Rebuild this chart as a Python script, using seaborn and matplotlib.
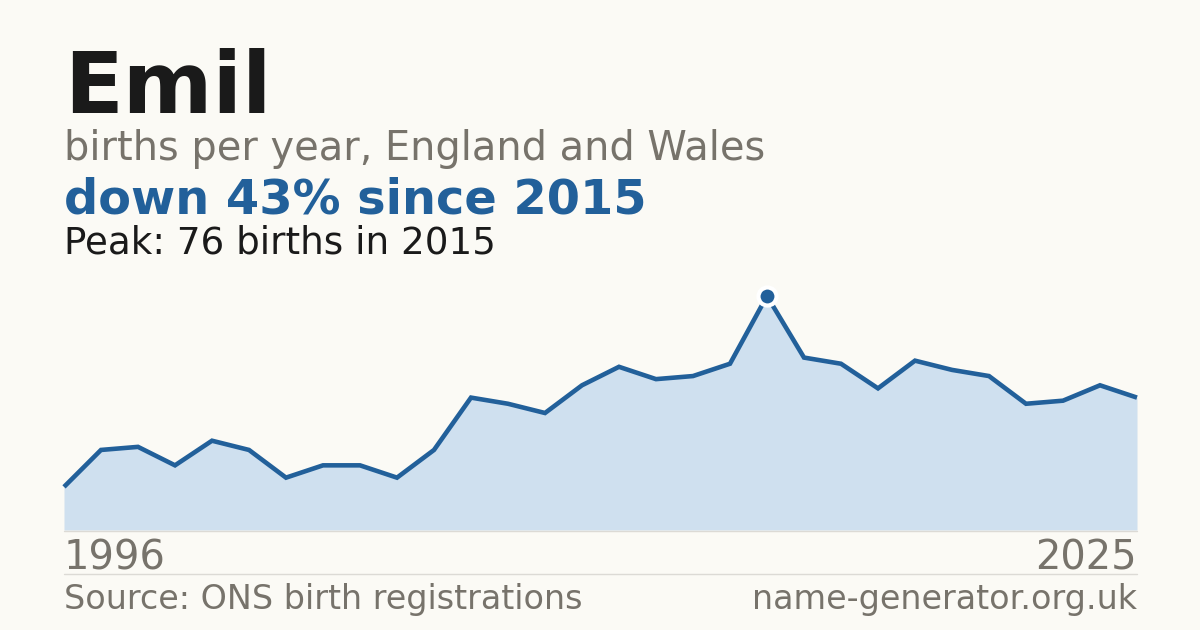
import numpy as np
import pandas as pd
import seaborn as sns
import matplotlib.pyplot as plt

years = list(range(1996, 2026))
births = [14, 26, 27, 21, 29, 26, 17, 21, 21, 17,
          26, 43, 41, 38, 47, 53, 49, 50, 54, 76,
          56, 54, 46, 55, 52, 50, 41, 42, 47, 43]

name = "Emil"
subtitle = "births per year, England and Wales"
source = "Source: ONS birth registrations"
site = "name-generator.org.uk"

bg = "#fbfaf5"
blue = "#22609a"
fill = "#cfe0ef"
grey = "#77736b"
dark = "#1a1a1a"

df = pd.DataFrame({"year": years, "births": births})
peak_i = int(np.argmax(births))
peak_year = years[peak_i]
peak_val = births[peak_i]
change = round((peak_val - births[-1]) / peak_val * 100)

sns.set_theme(style="white")
plt.rcParams["font.family"] = ["DejaVu Sans"]

W, H = 1200, 630
fig = plt.figure(figsize=(W / 100, H / 100), dpi=100, facecolor=bg)


def fy(px):
    return 1 - px / H


# plot area: x 64..1137, baseline y=530, peak at y=296
ax = fig.add_axes([64 / W, fy(530), (1137 - 64) / W, (530 - 296) / H])
ax.set_facecolor("none")
ax.fill_between(df["year"], 0, df["births"], color=fill, lw=0, zorder=1)
sns.lineplot(data=df, x="year", y="births", ax=ax, color=blue, lw=3.3,
             solid_joinstyle="miter", solid_capstyle="butt", zorder=2)
ax.plot([peak_year], [peak_val], "o", ms=13, mfc=blue, mec="white", mew=3,
        zorder=3, clip_on=False)
ax.set_xlim(years[0], years[-1])
ax.set_ylim(0, peak_val)
ax.axis("off")
for ln in ax.lines:
    ln.set_clip_on(False)

# lines
fig.add_artist(plt.Line2D([64 / W, 1137 / W], [fy(530.5), fy(530.5)],
                          color="#dcdad5", lw=1))
fig.add_artist(plt.Line2D([64 / W, 1137 / W], [fy(574), fy(574)],
                          color="#dcdad5", lw=1))

# texts
fig.text(64 / W, fy(113), name, fontsize=62, fontweight="bold", color=dark,
         va="baseline")
fig.text(64 / W, fy(160), subtitle, fontsize=28.7, color=grey, va="baseline")
fig.text(64 / W, fy(214), f"down {change}% since {peak_year}", fontsize=34.5,
         fontweight="bold", color=blue, va="baseline")
fig.text(64 / W, fy(253), f"Peak: {peak_val} births in {peak_year}",
         fontsize=26.8, color=dark, va="baseline")
fig.text(64 / W, fy(569), str(years[0]), fontsize=28.8, color=grey,
         va="baseline")
fig.text(1137 / W, fy(569), str(years[-1]), fontsize=28.8, color=grey,
         va="baseline", ha="right")
fig.text(64 / W, fy(609), source, fontsize=24, color=grey, va="baseline")
fig.text(1137 / W, fy(609), site, fontsize=24, color=grey, va="baseline",
         ha="right")

fig.savefig("out.png", dpi=100, facecolor=bg)
